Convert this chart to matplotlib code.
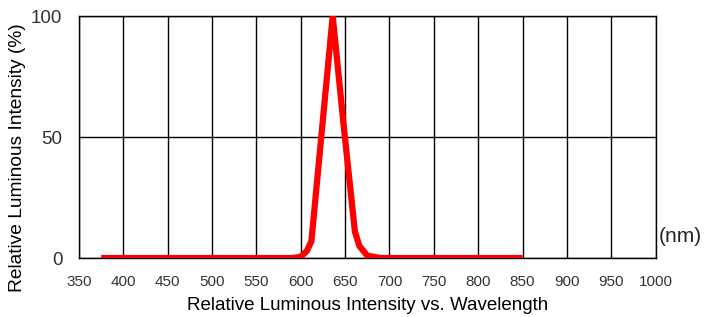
import matplotlib.pyplot as plt

plt.rcParams['font.family'] = ['Liberation Sans', 'DejaVu Sans']

# spectrum
wavelength = [375, 590, 600, 607, 612, 636, 648, 661, 666, 675, 690, 850]
intensity = [0, 0, 0.5, 3, 7, 100, 56, 11, 5, 1, 0, 0]

x_ticks = [350, 400, 450, 500, 550, 600, 650, 700, 750, 800, 850, 900, 950, 1000]
y_ticks = [0, 50, 100]

fig = plt.figure(figsize=(7.05, 3.17), dpi=100)
ax = fig.add_axes([0.112, 0.186, 0.818, 0.7635])

ax.plot(wavelength, intensity, color='#ff0000', lw=4.5, solid_joinstyle='round',
        solid_capstyle='butt', zorder=3)

ax.set_xlim(350, 1000)
ax.set_ylim(0, 100)
ax.set_xticks(x_ticks)
ax.set_yticks(y_ticks)
ax.grid(True, color='black', lw=1)
for s in ax.spines.values():
    s.set_color('black')
    s.set_linewidth(1)

ax.tick_params(axis='x', length=0, pad=12, labelsize=11, labelcolor='#333333')
ax.tick_params(axis='y', length=0, pad=12, labelsize=13.5, labelcolor='#333333')

ax.set_xlabel("Relative Luminous Intensity vs. Wavelength", fontsize=13.5, labelpad=6)
ax.set_ylabel("Relative Luminous Intensity (%)", fontsize=13.8, va='center')
ax.yaxis.set_label_coords(-0.106, 0.415)
fig.text(0.935, 0.253, "(nm)", fontsize=15, color='#222222', va='center', ha='left')

fig.savefig('out.png', dpi=100)
